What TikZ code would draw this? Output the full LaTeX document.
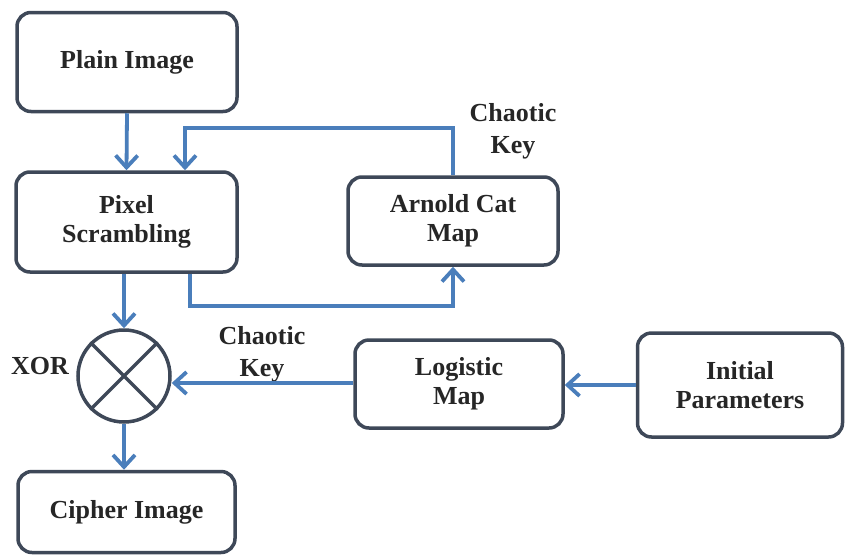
\documentclass[tikz,border=0pt]{standalone}
\usepackage{fontspec}
\setmainfont{Liberation Serif}
\usetikzlibrary{arrows.meta}
\definecolor{arrowblue}{RGB}{74,126,187}
\definecolor{boxline}{RGB}{62,72,88}
\begin{document}
\begin{tikzpicture}[x=1pt,y=-1pt,
  box/.style={draw=boxline,line width=3.5pt,rounded corners=14pt,align=center,
    font=\fontsize{26}{29}\selectfont\bfseries,text=black!85},
  lbl/.style={align=center,font=\fontsize{26}{32}\selectfont\bfseries,text=black!85},
  arr/.style={draw=arrowblue,line width=3.8pt,-{Straight Barb[length=12pt,width=22pt,line width=3.8pt]}},
  ln/.style={draw=arrowblue,line width=3.8pt}]
\useasboundingbox (0,0) rectangle (845,557);
\node[box,minimum width=220pt,minimum height=99pt] (plain) at (127,62) {Plain Image};
\node[box,minimum width=221pt,minimum height=100pt] (pixel) at (126.5,222) {Pixel\\Scrambling};
\node[box,minimum width=210pt,minimum height=88pt] (arnold) at (453,221) {Arnold Cat\\Map};
\node[draw=boxline,line width=3.5pt,circle,minimum size=92pt,inner sep=0pt] (xor) at (124,376) {};
\draw[boxline,line width=3.5pt] (xor.north west) -- (xor.south east) (xor.north east) -- (xor.south west);
\node[box,minimum width=208pt,minimum height=88pt] (logistic) at (459,384) {Logistic\\Map};
\node[box,minimum width=205pt,minimum height=104pt] (initial) at (740,385) {Initial\\Parameters};
\node[box,minimum width=217pt,minimum height=81pt] (cipher) at (126.5,512) {Cipher Image};
\node[lbl] (ck1) at (513,131) {Chaotic\\Key};
\node[lbl] (ck2) at (262,354) {Chaotic\\Key};
\node[lbl] (xorlbl) at (40,366) {XOR};
\coordinate (c1) at (185,128);
\coordinate (c2) at (190,306);
\draw[arr] (plain.south) -- (pixel.north);
\draw[arr] (arnold.north) |- (c1) -- (c1 |- pixel.north);
\draw[arr] (c2 |- pixel.south) -- (c2) -| (arnold.south);
\draw[arr] (pixel.south -| xor.north) -- (xor.north);
\draw[arr] (xor.south) -- (xor.south |- cipher.north);
\draw[arr] (logistic.west |- 0,383) -- (xor.east |- 0,383);
\draw[arr] (initial.west |- 0,385) -- (logistic.east |- 0,385);
\end{tikzpicture}
\end{document}
